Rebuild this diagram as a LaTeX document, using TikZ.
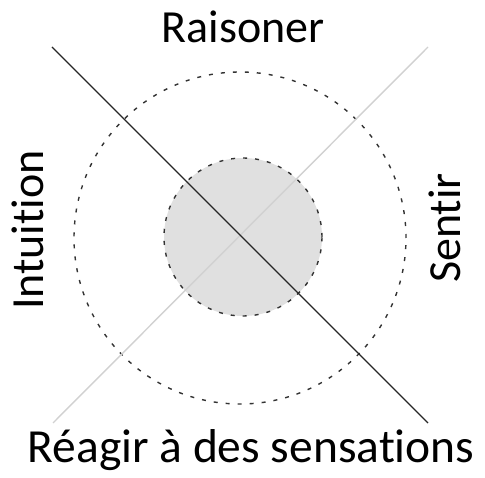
\documentclass[tikz,border=0pt]{standalone}
\usepackage{fontspec}
\setmainfont{Carlito}[Ligatures=NoCommon,Contextuals=NoAlternate]
\begin{document}
\begin{tikzpicture}[x=1pt,y=1pt,
  lbl/.style={inner sep=0pt, anchor=base, font=\fontsize{46}{55}\selectfont},
  ring/.style={draw=black!80, line width=1.4pt, dash pattern=on 4pt off 8pt},
  darkline/.style={draw=black!85, line width=1.4pt},
  lightline/.style={draw=black!18, line width=1.4pt}]
\useasboundingbox (0,0) rectangle (485,477);
\node[circle, ring, minimum size=332pt, inner sep=0pt] (big) at (240,239) {};
\node[circle, fill=black!12, draw=black!80, line width=1.4pt, dash pattern=on 4pt off 8pt, minimum size=158pt, inner sep=0pt] (small) at (243,240) {};
\coordinate (tl) at (52,430);
\coordinate (br) at (428,54);
\coordinate (bl) at (53,54);
\coordinate (tr) at (428,430);
\draw[lightline] (bl) -- (tr);
\draw[darkline] (tl) -- (br);
\node[lbl] (raison) at (243,434) {Raisoner};
\node[lbl, font=\fontsize{47.5}{55}\selectfont] (reagir) at (251,14) {Réagir à des sensations};
\node[lbl, rotate=90] (intu) at (43,247) {Intuition};
\node[lbl, rotate=90] (sentir) at (460,249) {Sentir};
\end{tikzpicture}
\end{document}
